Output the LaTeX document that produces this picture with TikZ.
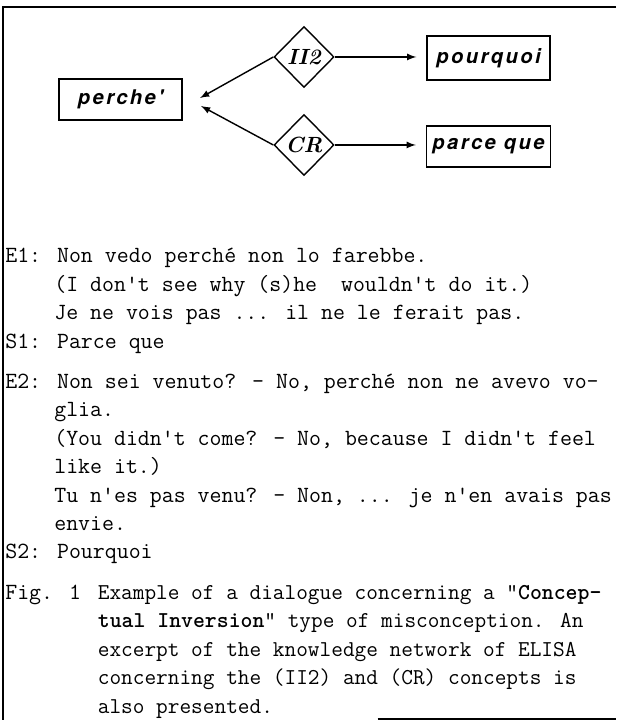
\documentclass[tikz,border=0pt]{standalone}
\usepackage{fontspec}
\newfontfamily\netfont{TeX Gyre Heros}[LetterSpace=12]
\usetikzlibrary{shapes.geometric}

\begin{document}
\begin{tikzpicture}[
    box/.style={draw, thick, minimum width=2.46cm, minimum height=0.82cm,
      font=\netfont\bfseries\itshape\fontsize{11.5}{14}\selectfont},
    test/.style={draw, thick, diamond, minimum width=1.2cm, minimum height=1.22cm,
      inner sep=0pt, font=\bfseries\itshape\fontsize{12.5}{14}\selectfont},
    txt/.style={anchor=base west, inner sep=0pt,
      font=\ttfamily\fontsize{13.2}{16}\selectfont},
    captxt/.style={txt, font=\ttfamily\fontsize{12.9}{16}\selectfont}
  ]
		\useasboundingbox (0,0) rectangle (12.32,14.44);
		\draw[semithick] (12.32,14.30) -- (0.06,14.30) -- (0.06,0.04);
		\draw[semithick] (7.55,0.06) -- (12.32,0.06);
		% network
		\node [box] (perche) at (2.41,12.45) {perche'};
		\node [test] (ii2) at (6.08,13.30) {II2};
		\node [test] (cr) at (6.08,11.54) {CR};
		\node [box, minimum width=2.46cm, minimum height=0.88cm] (pourquoi) at (9.77,13.28) {pourquoi};
		\node [box, minimum width=2.48cm] (parceque) at (9.77,11.51) {parce que};
		\coordinate (tipa) at (4.0,12.48);
		\coordinate (tipb) at (4.02,12.32);
		\draw [thick, -latex] (ii2.west) -- (tipa);
		\draw [thick, -latex] (cr.west) -- (tipb);
		\draw [thick, -latex, shorten >=0.2cm] (ii2.east) -- (ii2.east -| pourquoi.west);
		\draw [thick, -latex, shorten >=0.2cm] (cr.east) -- (cr.east -| parceque.west);
		% dialogue
		\node [txt] (e1) at (0.1,9.18) {E1: Non vedo perché non lo farebbe.};
		\node [txt] (e1en) at (1.08,8.612) {(I don't see why (s)he\ \ wouldn't do it.)};
		\node [txt] (e1fr) at (1.08,8.044) {Je ne vois pas ... il ne le ferait pas.};
		\node [txt] (s1) at (0.1,7.476) {S1: Parce que};
		\node [txt] (e2) at (0.1,6.668) {E2: Non sei venuto? - No, perché non ne avevo vo-};
		\node [txt] (e2b) at (1.08,6.10) {glia.};
		\node [txt] (e2en) at (1.08,5.532) {(You didn't come? - No, because I didn't feel};
		\node [txt] (e2enb) at (1.08,4.964) {like it.)};
		\node [txt] (e2fr) at (1.08,4.396) {Tu n'es pas venu? - Non, ... je n'en avais pas};
		\node [txt] (e2frb) at (1.08,3.828) {envie.};
		\node [txt] (s2) at (0.1,3.26) {S2: Pourquoi};
		% caption
		\node [txt] (fig) at (0.1,2.452) {Fig. 1};
		\node [captxt] (capa) at (1.95,2.452) {Example of a dialogue concerning a "\textbf{Concep-}};
		\node [captxt] (capb) at (1.95,1.884) {\textbf{tual Inversion}" type of misconception. An};
		\node [captxt] (capc) at (1.95,1.316) {excerpt of the knowledge network of ELISA};
		\node [captxt] (capd) at (1.95,0.748) {concerning the (II2) and (CR) concepts is};
		\node [captxt] (cape) at (1.95,0.18) {also presented.};
	\end{tikzpicture}
\end{document}
